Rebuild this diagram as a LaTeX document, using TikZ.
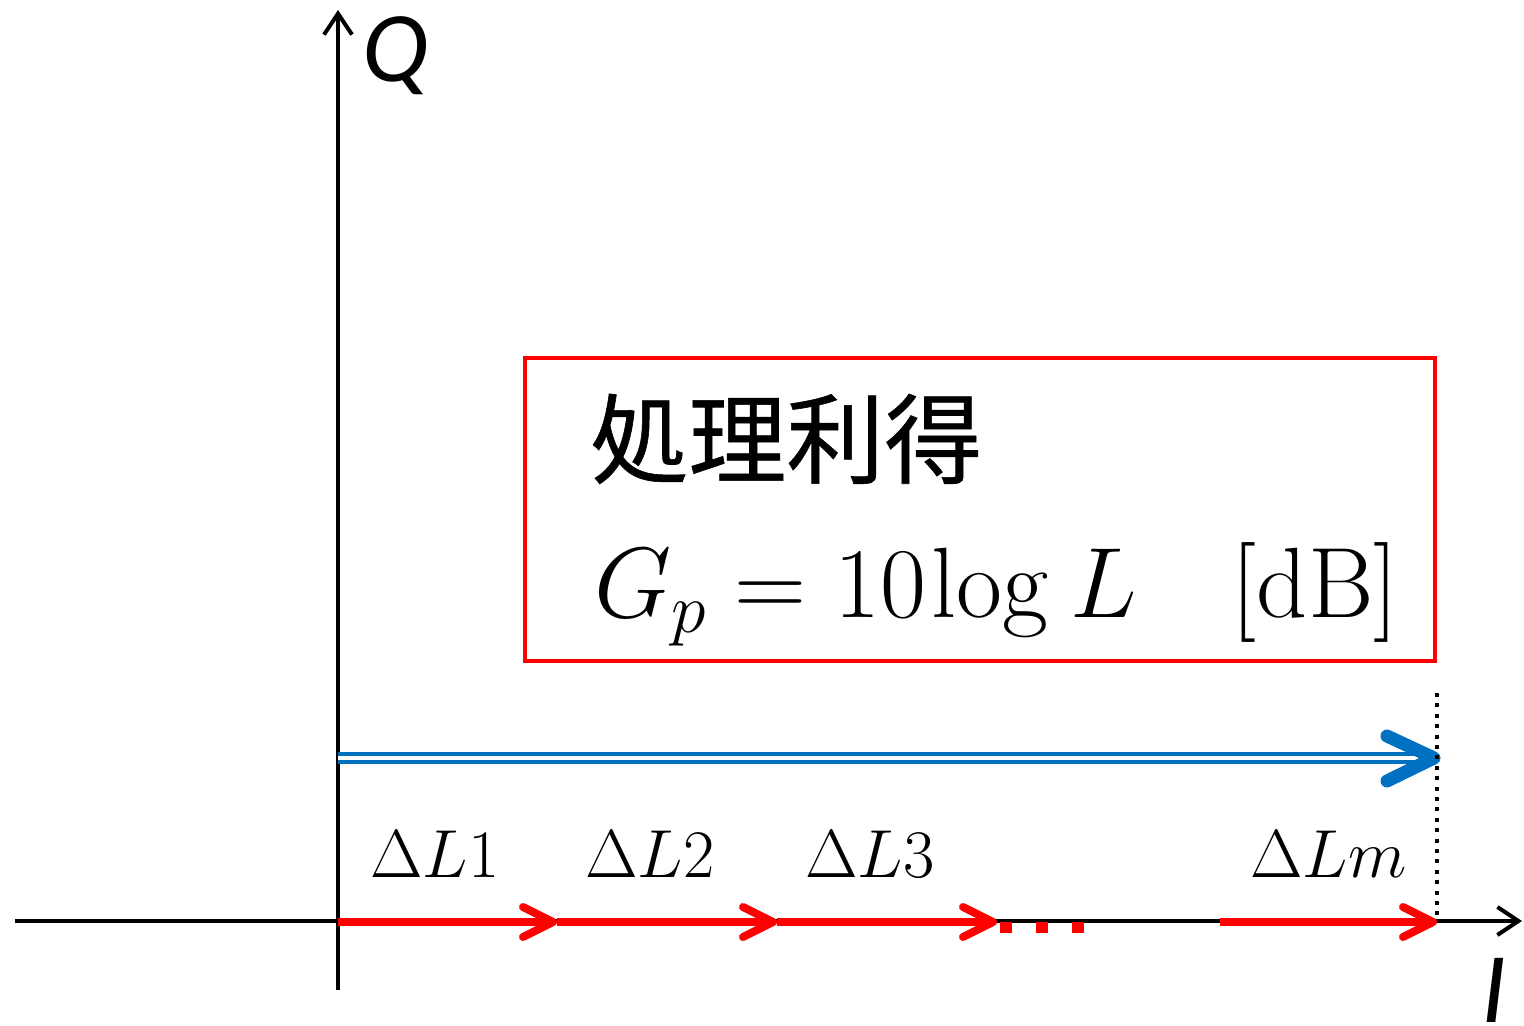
\RequirePackage{fix-cm}
\documentclass[tikz,border=0pt]{standalone}
\usepackage{fontspec}
\newfontfamily\cjk[FakeBold=0.6]{Noto Sans CJK SC}
\newfontfamily\carlito{Carlito}
\usetikzlibrary{arrows.meta}
\definecolor{axblue}{RGB}{0,112,192}
\definecolor{axred}{RGB}{255,0,0}
\tikzset{
  axis/.style={line width=2.2pt,-{Straight Barb[length=10.5pt,width=14pt,line width=2pt]}},
  redseg/.style={draw=axred,line width=4pt,-{Straight Barb[length=15pt,width=15pt,round,line width=4pt]}},
  bluedouble/.style={draw=axblue,line width=1.75pt,double=white,double distance=2.3pt},
  bluechev/.style={draw=axblue,line width=6.5pt,line cap=round,line join=round},
  guide/.style={draw=black,line width=2pt,dash pattern=on 2pt off 3.2pt},
  gainbox/.style={draw=axred,line width=2pt},
  deltalabel/.style={anchor=base west,inner sep=0pt,font=\fontsize{34}{40}\selectfont},
  axlabel/.style={anchor=base west,inner sep=0pt,font=\carlito\itshape\fontsize{50}{60}\selectfont}
}
\begin{document}
\begin{tikzpicture}[x=0.5pt,y=-0.5pt]
\useasboundingbox (0,0) rectangle (1524,1026);
% axes
\coordinate (xl) at (15,921);
\coordinate (xr) at (1522,921);
\coordinate (yb) at (338,990);
\coordinate (yt) at (338,10);
\draw[axis] (xl) -- (xr);
\draw[axis] (yb) -- (yt);
\node[axlabel] (Q) at (362,82) {Q};
\node[axlabel] (I) at (1481,1022) {I};
% red box
\node[gainbox,minimum width=455pt,minimum height=151.5pt,inner sep=0pt] (box) at (980,509.5) {};
\node[anchor=base west,inner sep=0pt,font=\cjk\fontsize{49}{56}\selectfont] (title) at (590,476) {処理利得};
\node[anchor=base west,inner sep=0pt,font=\fontsize{50}{56}\selectfont] (gp) at (594,617)
  {$G_p = 10\mskip1mu\mathrm{log}\mskip4mu L\mskip17mu[\mathrm{dB}]$};
% blue arrow
\coordinate (bs) at (338,758);
\coordinate (bt) at (1434,758);
\coordinate (bu) at (1387,736);
\coordinate (bd) at (1387,781);
\draw[bluedouble] (bs) -- (1420,758);
\draw[bluechev] (bu) -- (bt) -- (bd);
% dotted guide
\coordinate (gt) at (1437,693);
\coordinate (gb) at (1437,921);
\draw[guide] (gt) -- (gb);
% red segments
\coordinate (p0) at (338,922);
\coordinate (p1) at (557,922);
\coordinate (p2) at (777,922);
\coordinate (p3) at (997,922);
\coordinate (q0) at (1220,922);
\coordinate (q1) at (1437,922);
\draw[redseg] (p0) -- (p1);
\draw[redseg] (p1) -- (p2);
\draw[redseg] (p2) -- (p3);
\draw[redseg] (q0) -- (q1);
\coordinate (d0) at (1000,927);
\coordinate (d1) at (1090,927);
\draw[draw=axred,line width=5.5pt,dash pattern=on 6pt off 12pt] (d0) -- (d1);
% labels
\node[deltalabel] (l1) at (370,877) {$\Delta L1$};
\node[deltalabel] (l2) at (585,877) {$\Delta L2$};
\node[deltalabel] (l3) at (805,877) {$\Delta L3$};
\node[deltalabel] (lm) at (1250,877) {$\Delta Lm$};
\end{tikzpicture}
\end{document}
